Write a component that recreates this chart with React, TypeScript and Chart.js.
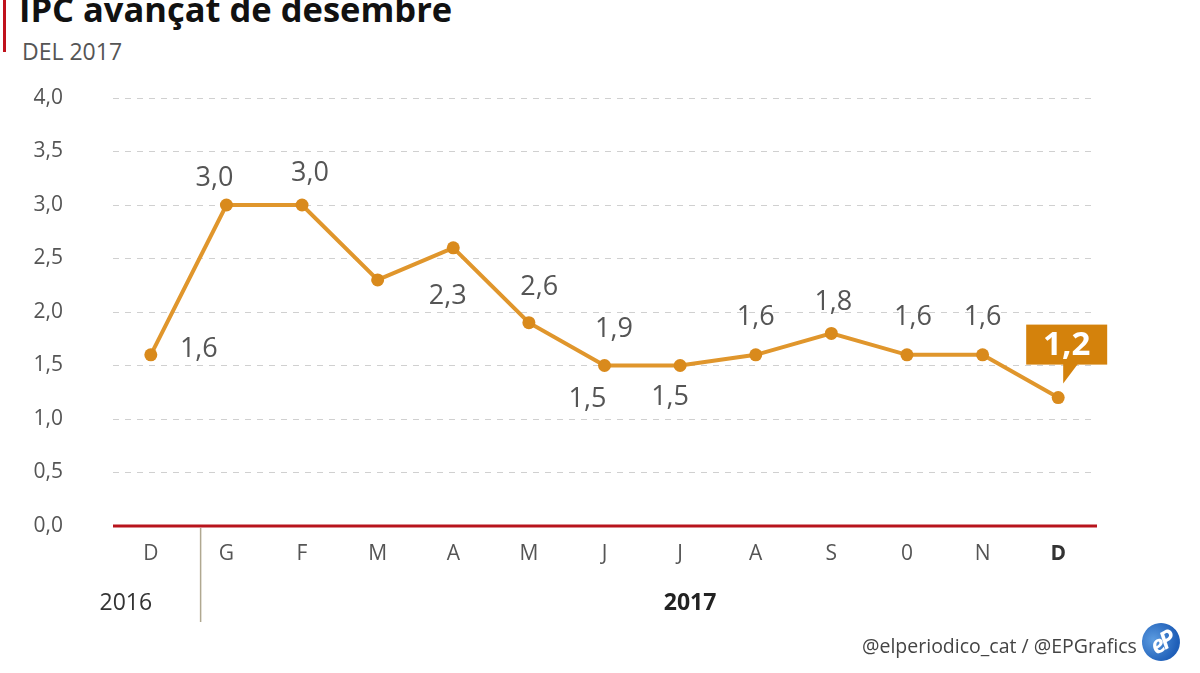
import React, { useEffect, useRef } from "react";
import { Chart, registerables } from "chart.js";

Chart.register(...registerables);

// ---- data ----
const months = ["D", "G", "F", "M", "A", "M", "J", "J", "A", "S", "0", "N", "D"];
const ipc = [1.6, 3.0, 3.0, 2.3, 2.6, 1.9, 1.5, 1.5, 1.6, 1.8, 1.6, 1.6, 1.2];
const years = ["2016", "2017"];
const titleText = "IPC avançat de desembre";
const subtitleText = "DEL 2017";
const sourceText = "@elperiodico_cat / @EPGrafics";

// ---- label placement (styling only, relative to each point) ----
const labelOffsets = [
  { i: 0, dx: 48, dy: -5 },
  { i: 1, dx: -12, dy: -27 },
  { i: 2, dx: 8, dy: -32 },
  { i: 3, dx: 70, dy: 16 },
  { i: 4, dx: 86, dy: 40 },
  { i: 5, dx: 85, dy: 7 },
  { i: 6, dx: -17, dy: 34 },
  { i: 7, dx: -10, dy: 32 },
  { i: 8, dx: 0, dy: -37 },
  { i: 9, dx: 2, dy: -31 },
  { i: 10, dx: 6, dy: -37 },
  { i: 11, dx: 0, dy: -37 },
];

const FONT = "'Open Sans', 'Noto Sans', sans-serif";
const LINE = "#e0962c";
const POINT = "#d98a1c";
const CALLOUT = "#d4820c";
const RED = "#b8141c";

const fmt = (v: number) => v.toFixed(1).replace(".", ",");

const overlay = {
  id: "overlay",
  beforeDatasetsDraw(chart: any) {
    const { ctx, chartArea, scales } = chart;
    const y0 = scales.y.getPixelForValue(0);
    ctx.save();
    ctx.strokeStyle = RED;
    ctx.lineWidth = 3;
    ctx.beginPath();
    ctx.moveTo(chartArea.left, y0);
    ctx.lineTo(chartArea.right + 1, y0);
    ctx.stroke();
    // separator between years
    const xs = scales.x;
    const sepX = (xs.getPixelForValue(0) + xs.getPixelForValue(1)) / 2 + 12;
    ctx.strokeStyle = "#b0a890";
    ctx.lineWidth = 1.5;
    ctx.beginPath();
    ctx.moveTo(sepX, y0 + 2);
    ctx.lineTo(sepX, y0 + 96);
    ctx.stroke();
    // year labels
    ctx.textAlign = "center";
    ctx.textBaseline = "middle";
    ctx.fillStyle = "#333";
    ctx.font = `23px ${FONT}`;
    ctx.fillText(years[0], xs.getPixelForValue(0) - 25, y0 + 77);
    ctx.font = `bold 23px ${FONT}`;
    ctx.fillStyle = "#222";
    ctx.fillText(years[1], xs.getPixelForValue(7) + 10, y0 + 77);
    ctx.restore();
  },
  afterDatasetsDraw(chart: any) {
    const { ctx, scales } = chart;
    const xs = scales.x;
    const ys = scales.y;
    ctx.save();
    ctx.textAlign = "center";
    ctx.textBaseline = "middle";
    ctx.fillStyle = "#555";
    ctx.font = `27px ${FONT}`;
    labelOffsets.forEach(({ i, dx, dy }) => {
      const px = xs.getPixelForValue(i);
      const py = ys.getPixelForValue(ipc[i]);
      ctx.fillText(fmt(ipc[i]), px + dx, py + dy);
    });
    // callout for last value
    const li = ipc.length - 1;
    const px = xs.getPixelForValue(li);
    const py = ys.getPixelForValue(ipc[li]);
    const bl = px - 32, br = px + 49, bt = py - 73, bb = py - 33;
    ctx.fillStyle = CALLOUT;
    ctx.fillRect(bl, bt, br - bl, bb - bt);
    ctx.beginPath();
    ctx.moveTo(px + 5, bb - 1);
    ctx.lineTo(px + 20, bb - 1);
    ctx.lineTo(px + 5, bb + 19);
    ctx.closePath();
    ctx.fill();
    ctx.fillStyle = "#fff";
    ctx.font = `bold 33px ${FONT}`;
    ctx.fillText(fmt(ipc[li]), (bl + br) / 2, (bt + bb) / 2 + 1);
    ctx.restore();
  },
};

export default function App() {
  const ref = useRef<HTMLCanvasElement | null>(null);
  useEffect(() => {
    if (!ref.current) return;
    const chart = new Chart(ref.current, {
      type: "line",
      data: {
        labels: months,
        datasets: [
          {
            data: ipc,
            borderColor: LINE,
            borderWidth: 4,
            pointRadius: 6.5,
            pointBackgroundColor: POINT,
            pointBorderWidth: 0,
            tension: 0,
          },
        ],
      },
      options: {
        responsive: false,
        animation: false,
        devicePixelRatio: 1,
        layout: { padding: { top: 98, right: 104, bottom: 0, left: 0 } },
        plugins: { legend: { display: false }, tooltip: { enabled: false }, title: { display: false } },
        scales: {
          x: {
            offset: true,
            grid: { display: false, drawTicks: false },
            border: { display: false },
            ticks: {
              padding: 15,
              maxRotation: 0,
              autoSkip: false,
              color: (c: any) => (c.index === months.length - 1 ? "#333" : "#555"),
              font: (c: any) => ({
                family: FONT,
                size: 21,
                weight: c.index === months.length - 1 ? "bold" : "normal",
              }),
            },
            afterFit: (s: any) => {
              s.height = 147;
            },
          },
          y: {
            min: 0,
            max: 4,
            grid: {
              drawTicks: false,
              color: (c: any) => (c.tick && c.tick.value === 0 ? "rgba(0,0,0,0)" : "#d0d0d0"),
              lineWidth: 1,
            },
            border: { display: false, dash: [6, 6] },
            ticks: {
              stepSize: 0.5,
              padding: 50,
              color: "#555",
              font: { family: FONT, size: 21 },
              callback: (v: any) => fmt(Number(v)),
            },
            afterFit: (s: any) => {
              s.width = 113;
            },
          },
        },
      },
      plugins: [overlay],
    });
    return () => chart.destroy();
  }, []);

  return (
    <div style={{ position: "absolute", top: 0, left: 0, width: 1200, height: 673, background: "#fff", overflow: "hidden", fontFamily: FONT }}>
      <div style={{ position: "absolute", left: 3, top: 0, width: 3, height: 52, background: "#c0121c" }} />
      <div style={{ position: "absolute", left: 19, top: -8, fontSize: 34.5, lineHeight: 1, fontWeight: 700, color: "#111", whiteSpace: "nowrap" }}>
        {titleText}
      </div>
      <div style={{ position: "absolute", left: 22, top: 40, fontSize: 23, lineHeight: 1, color: "#555", whiteSpace: "nowrap" }}>
        {subtitleText}
      </div>
      <canvas ref={ref} width={1200} height={673} style={{ position: "absolute", left: 0, top: 0 }} />
      <div style={{ position: "absolute", left: 862, top: 636, fontSize: 19.5, lineHeight: 1, color: "#444", whiteSpace: "nowrap" }}>
        {sourceText}
      </div>
      <div
        style={{
          position: "absolute",
          left: 1142,
          top: 623,
          width: 38,
          height: 38,
          borderRadius: "50%",
          background: "radial-gradient(circle at 35% 35%, #5b9be0, #1f5fb8 70%)",
          color: "#fff",
          fontWeight: 700,
          fontStyle: "italic",
          fontSize: 24,
          lineHeight: "38px",
          textAlign: "center",
          letterSpacing: -3,
          transform: "rotate(-30deg)",
        }}
      >
        eP
      </div>
    </div>
  );
}
